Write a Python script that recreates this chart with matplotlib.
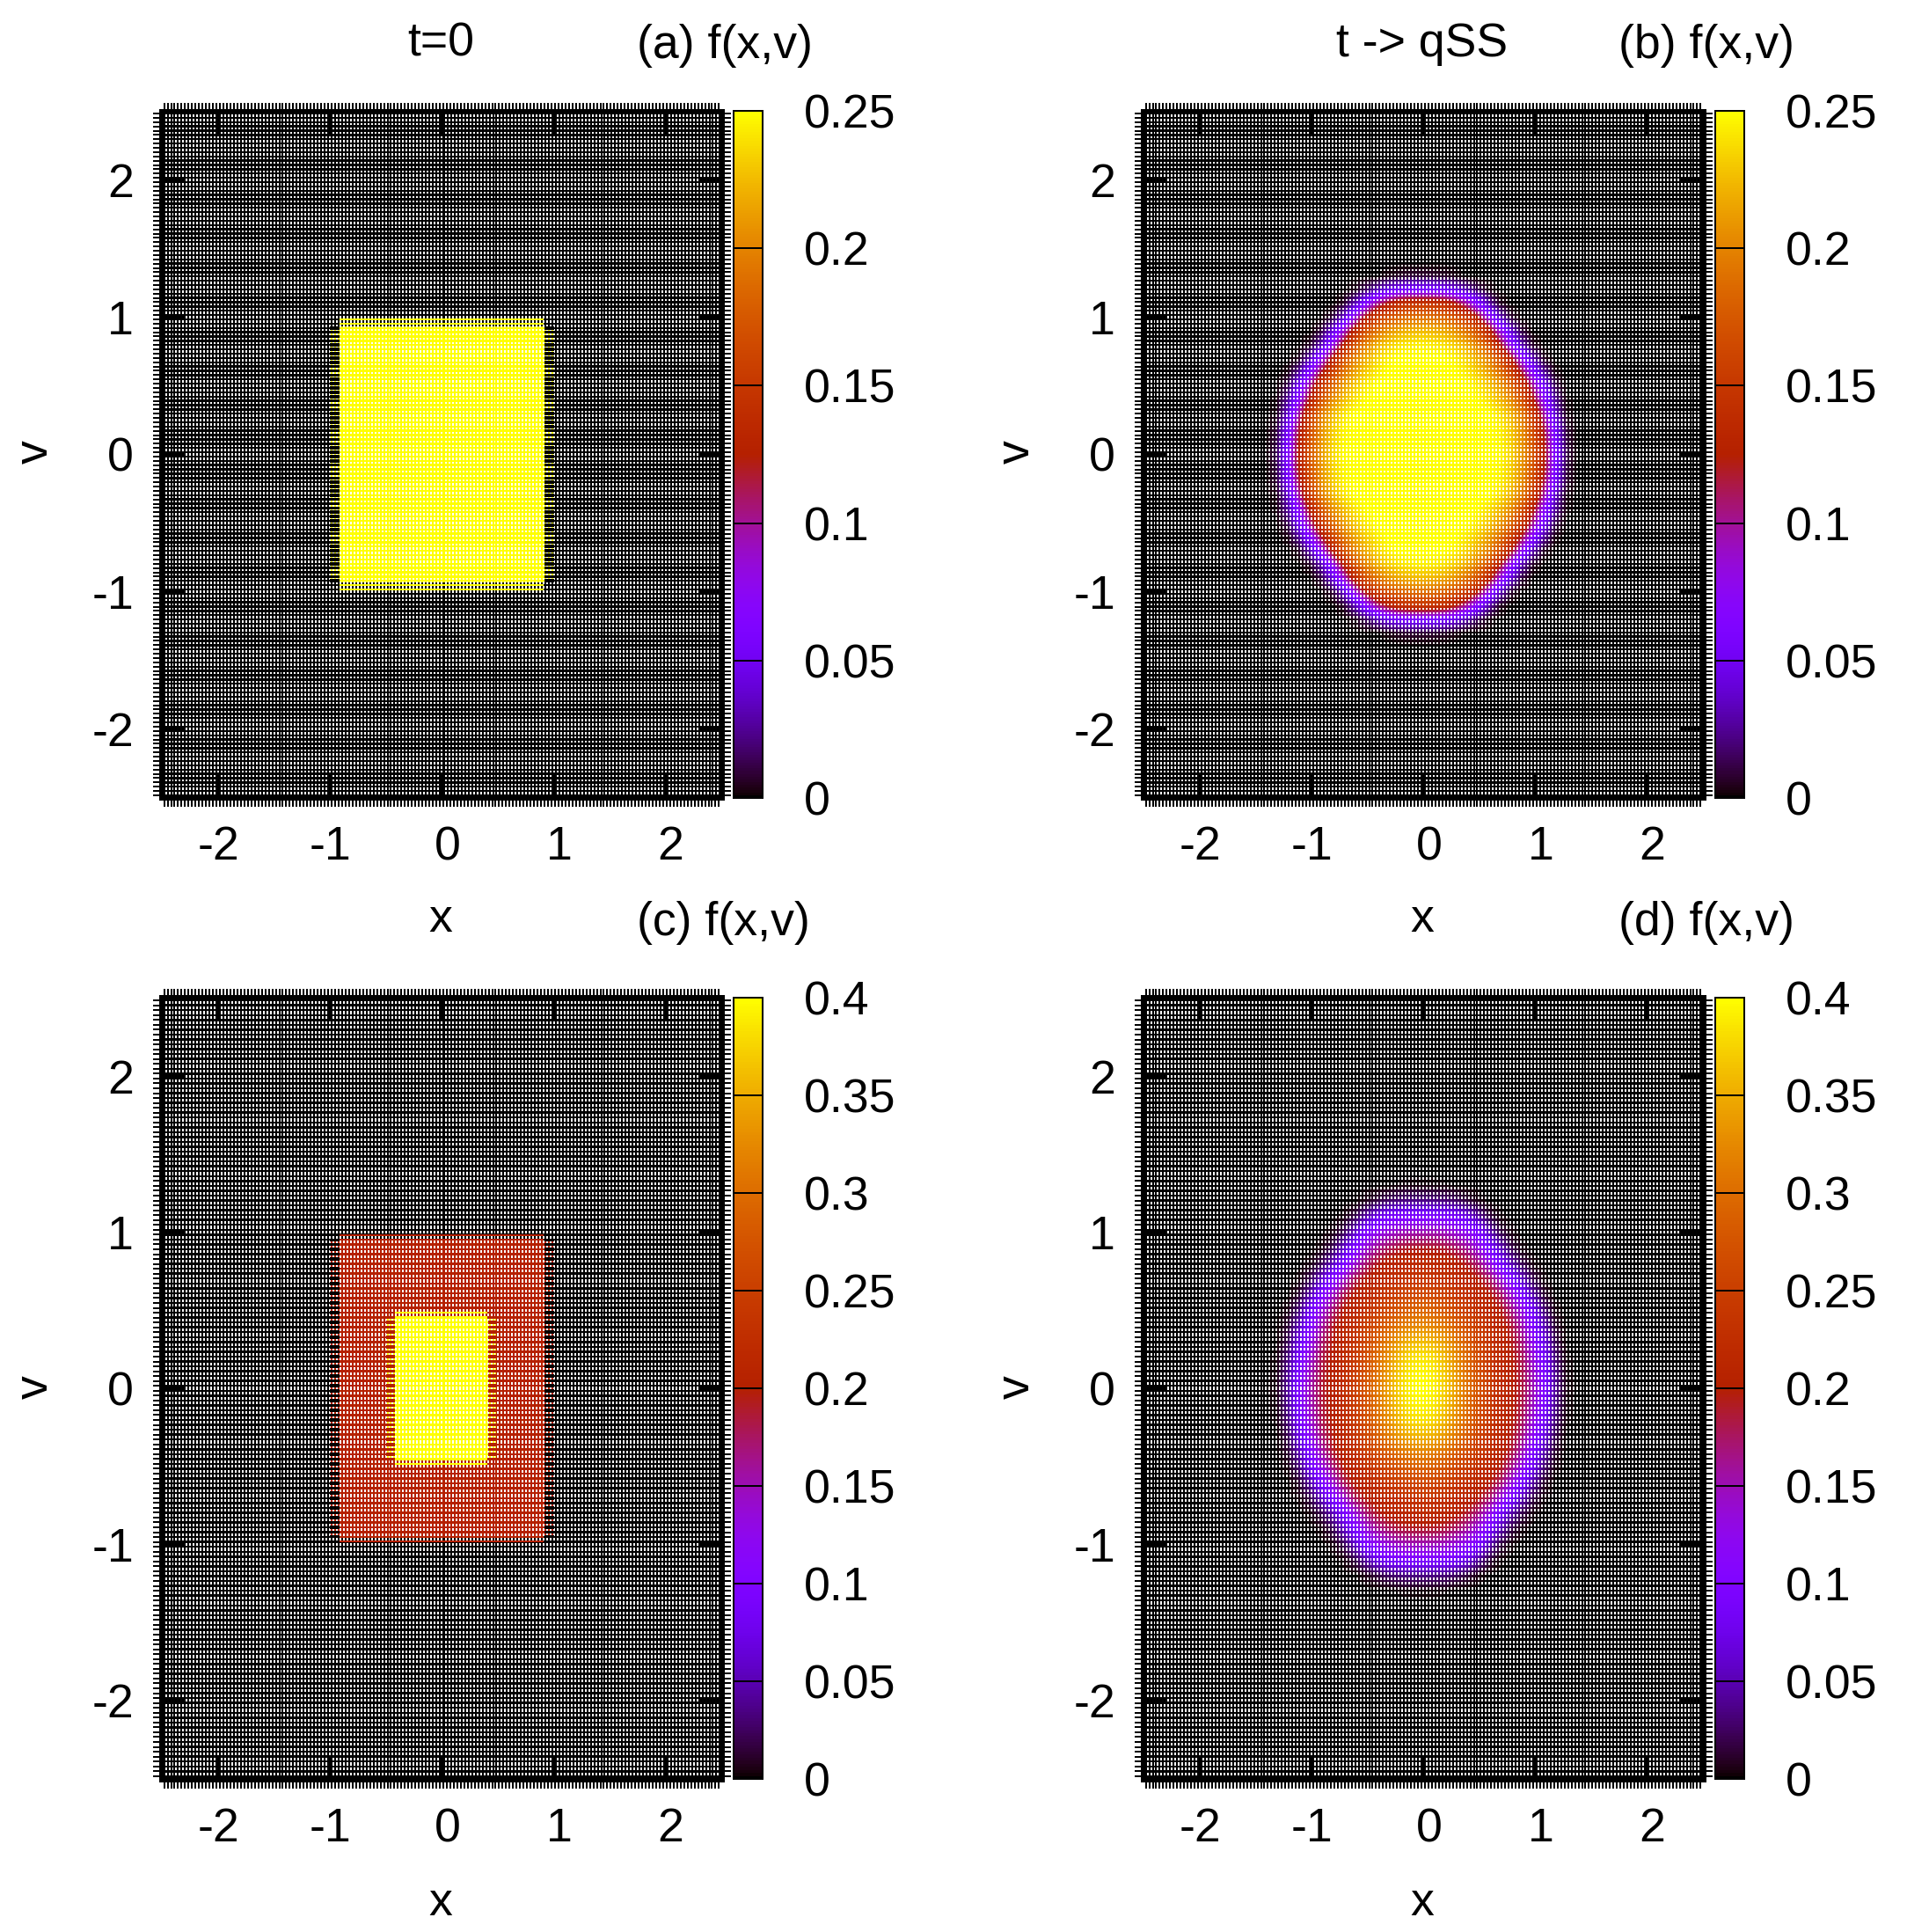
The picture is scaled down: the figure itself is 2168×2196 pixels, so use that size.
"""Phase-space density f(x,v): initial condition and quasi-stationary state, gnuplot mesh look."""
import numpy as np
import matplotlib
matplotlib.use("Agg")
import matplotlib.pyplot as plt

plt.rcParams["font.family"] = ["Liberation Sans", "DejaVu Sans"]
plt.rcParams["axes.unicode_minus"] = False

W, H = 2168, 2196
DPI = 200
FS = 19.3
PT = 72 / DPI  # one pixel in points

major_ticks = [-2, -1, 0, 1, 2]
cbar_ticks_top = [0, 0.05, 0.1, 0.15, 0.2, 0.25]
cbar_labels_top = ["0", "0.05", "0.1", "0.15", "0.2", "0.25"]
cbar_ticks_bot = [0, 0.05, 0.1, 0.15, 0.2, 0.25, 0.3, 0.35, 0.4]
cbar_labels_bot = ["0", "0.05", "0.1", "0.15", "0.2", "0.25", "0.3", "0.35", "0.4"]

# panel (a): flat box
a_x_edges = [-2.6, -1.0, -0.913, 0.913, 1.0, 2.6]
a_v_edges = [-2.6, -0.99, -0.93, 0.93, 0.99, 2.6]
a_values = [
    [0, 0, 0, 0, 0],
    [0, 0, 0.25, 0, 0],
    [0, 0.25, 0.25, 0.25, 0],
    [0, 0, 0.25, 0, 0],
    [0, 0, 0, 0, 0],
]

# panel (c): two nested boxes
c_x_edges = [-2.6, -1.0, -0.913, -0.496, -0.417, 0.41, 0.488, 0.913, 1.0, 2.6]
c_v_edges = [-2.6, -0.985, -0.945, -0.49, -0.445, 0.445, 0.49, 0.945, 0.985, 2.6]
c_values = [
    [0, 0, 0, 0, 0, 0, 0, 0, 0],
    [0, 0, 0.2, 0.2, 0.2, 0.2, 0.2, 0, 0],
    [0, 0.2, 0.2, 0.2, 0.2, 0.2, 0.2, 0.2, 0],
    [0, 0.2, 0.2, 0.2, 0.4, 0.2, 0.2, 0.2, 0],
    [0, 0.2, 0.2, 0.4, 0.4, 0.4, 0.2, 0.2, 0],
    [0, 0.2, 0.2, 0.2, 0.4, 0.2, 0.2, 0.2, 0],
    [0, 0.2, 0.2, 0.2, 0.2, 0.2, 0.2, 0.2, 0],
    [0, 0, 0.2, 0.2, 0.2, 0.2, 0.2, 0, 0],
    [0, 0, 0, 0, 0, 0, 0, 0, 0],
]

# panels (b), (d): values read by eye, one quadrant; rows v = 0 .. 1.4, columns |x| = 0 .. 1.5
BLOB_STEP = 0.1
BLOB_XC = -0.02
b_quadrant = [
    [.25, .25, .25, .25, .25, .25, .25, .248, .235, .21, .175, .125, .06, .012, 0, 0],
    [.25, .25, .25, .25, .25, .25, .25, .247, .233, .208, .172, .122, .057, .01, 0, 0],
    [.25, .25, .25, .25, .25, .25, .25, .245, .23, .205, .165, .112, .05, .008, 0, 0],
    [.25, .25, .25, .25, .25, .25, .25, .24, .222, .195, .152, .095, .035, .003, 0, 0],
    [.25, .25, .25, .25, .25, .249, .24, .225, .205, .172, .125, .07, .025, .002, 0, 0],
    [.25, .25, .25, .25, .25, .243, .23, .212, .185, .15, .1, .05, .012, 0, 0, 0],
    [.25, .25, .25, .25, .243, .232, .215, .192, .16, .115, .065, .025, .003, 0, 0, 0],
    [.25, .25, .25, .245, .235, .22, .2, .17, .125, .075, .03, .005, 0, 0, 0, 0],
    [.245, .243, .24, .232, .22, .2, .172, .125, .075, .03, .006, 0, 0, 0, 0, 0],
    [.225, .223, .218, .208, .192, .172, .135, .085, .04, .01, 0, 0, 0, 0, 0, 0],
    [.19, .188, .182, .172, .155, .125, .08, .035, .008, 0, 0, 0, 0, 0, 0, 0],
    [.15, .148, .142, .125, .1, .065, .03, .006, 0, 0, 0, 0, 0, 0, 0, 0],
    [.06, .06, .055, .045, .03, .015, .004, 0, 0, 0, 0, 0, 0, 0, 0, 0],
    [.008, .008, .006, .003, 0, 0, 0, 0, 0, 0, 0, 0, 0, 0, 0, 0],
    [0, 0, 0, 0, 0, 0, 0, 0, 0, 0, 0, 0, 0, 0, 0, 0],
]
d_quadrant = [
    [.4, .395, .375, .345, .31, .28, .25, .225, .205, .185, .15, .1, .04, .005, 0, 0],
    [.395, .39, .37, .34, .305, .275, .248, .223, .203, .182, .145, .095, .037, .004, 0, 0],
    [.385, .38, .36, .33, .3, .27, .243, .22, .2, .178, .135, .085, .03, .003, 0, 0],
    [.36, .355, .34, .315, .288, .26, .237, .215, .195, .168, .12, .07, .02, 0, 0, 0],
    [.325, .32, .31, .29, .27, .25, .228, .208, .188, .152, .1, .05, .012, 0, 0, 0],
    [.295, .29, .28, .265, .25, .232, .215, .197, .168, .13, .08, .03, .005, 0, 0, 0],
    [.265, .262, .255, .243, .23, .215, .2, .178, .14, .095, .045, .012, 0, 0, 0, 0],
    [.24, .238, .232, .224, .212, .198, .178, .14, .1, .055, .02, .003, 0, 0, 0, 0],
    [.22, .218, .212, .205, .19, .17, .135, .09, .05, .02, .004, 0, 0, 0, 0, 0],
    [.19, .189, .185, .175, .16, .135, .095, .055, .02, .004, 0, 0, 0, 0, 0, 0],
    [.15, .15, .146, .135, .12, .1, .055, .02, .004, 0, 0, 0, 0, 0, 0, 0],
    [.1, .1, .097, .09, .072, .045, .018, .003, 0, 0, 0, 0, 0, 0, 0, 0],
    [.035, .035, .032, .026, .016, .006, 0, 0, 0, 0, 0, 0, 0, 0, 0, 0],
    [.003, .003, .002, 0, 0, 0, 0, 0, 0, 0, 0, 0, 0, 0, 0, 0],
    [0, 0, 0, 0, 0, 0, 0, 0, 0, 0, 0, 0, 0, 0, 0, 0],
]

# the data mesh: 160 lines each way
xgrid = np.linspace(-2.484, 2.484, 160)
vgrid = np.linspace(-2.484, 2.484, 160)
XLIM = 2.52
LINE_HALF = 1.2  # px

cmap = plt.get_cmap("gnuplot")
fig = plt.figure(figsize=(W / DPI, H / DPI), dpi=DPI)


def px_axes(left, top, right, bottom):
    return fig.add_axes([left / W, 1 - bottom / H, (right - left) / W, (bottom - top) / H])


def px_text(x, y, s, ha="center", **kw):
    fig.text(x / W, 1 - y / H, s, ha=ha, va="center", fontsize=FS, **kw)


def mesh_overlay(ax, ylim, fringes):
    """White holes between the mesh lines, plus line-only fringes at box edges."""
    bb = ax.get_window_extent()
    nx, ny = int(round(bb.width)), int(round(bb.height))
    sx = nx / (2 * XLIM)
    sy = ny / (2 * ylim)
    px = np.arange(nx) + 0.5
    py = np.arange(ny) + 0.5
    gx = (xgrid + XLIM) * sx
    gy = (vgrid + ylim) * sy
    dist_x = np.abs(px[:, None] - gx[None, :]).min(axis=1)
    dist_y = np.abs(py[:, None] - gy[None, :]).min(axis=1)
    on_x = dist_x < 1.0
    on_y = dist_y < LINE_HALF
    inside_x = (px > gx[0]) & (px < gx[-1])
    inside_y = (py > gy[0]) & (py < gy[-1])
    rgba = np.zeros((ny, nx, 4))
    holes = np.outer(inside_y & ~on_y, inside_x & ~on_x)
    rgba[holes] = (1, 1, 1, 1)
    xs = px / sx - XLIM
    ys = py / sy - ylim
    for x0, x1, v0, v1, kind, colour in fringes:
        zone = np.outer((ys > v0) & (ys < v1), (xs > x0) & (xs < x1))
        if kind == "h":
            # side fringes read darker: the cross lines are heavier there
            lines = np.outer(dist_y < 1.8, np.ones(nx, dtype=bool))
        else:
            lines = np.outer(~on_y, on_x)
        rgba[zone & lines] = matplotlib.colors.to_rgba(colour)
    ax.imshow(rgba, extent=[-XLIM, XLIM, -ylim, ylim], origin="lower", aspect="auto",
              interpolation="nearest", zorder=1)


def box_fringes(x0, x1, x2, x3, v0, v1, v2, v3, colour):
    return [
        (x0, x1, v1, v2, "h", colour),
        (x2, x3, v1, v2, "h", colour),
        (x1, x2, v0, v1, "v", colour),
        (x1, x2, v2, v3, "v", colour),
    ]


def style_panel(ax, ylim):
    ax.set_facecolor("black")
    ax.set_xlim(-XLIM, XLIM)
    ax.set_ylim(-ylim, ylim)
    ax.set_xticks(major_ticks)
    ax.set_yticks(major_ticks)
    ax.set_xticks(xgrid, minor=True)
    ax.set_yticks(vgrid, minor=True)
    ax.tick_params(which="major", direction="in", length=28 * PT, width=4 * PT,
                   top=True, right=True, labelsize=FS, pad=30 * PT)
    ax.tick_params(which="minor", direction="out", length=8.5 * PT, width=2 * PT,
                   top=True, right=True)
    for spine in ax.spines.values():
        spine.set_linewidth(3 * PT)
    # gnuplot nudges the unsigned labels to the right
    nudge = matplotlib.transforms.ScaledTranslation(6.5 / DPI, 0, fig.dpi_scale_trans)
    for tick, val in zip(ax.xaxis.get_major_ticks(), major_ticks):
        if val >= 0:
            tick.label1.set_transform(tick.label1.get_transform() + nudge)


def add_cbar(left, top, bottom, mappable, ticks, labels):
    cax = px_axes(left, top, left + 33, bottom)
    cb = fig.colorbar(mappable, cax=cax, ticks=ticks)
    cb.ax.set_yticklabels(labels)
    cb.ax.tick_params(direction="in", length=33 * PT, width=2 * PT, labelsize=FS, pad=47 * PT)
    cb.outline.set_linewidth(2 * PT)


def draw_boxes(ax, x_edges, v_edges, values, vmax):
    return ax.pcolormesh(x_edges, v_edges, values, cmap=cmap, vmin=0, vmax=vmax,
                         shading="flat", zorder=0.5, antialiased=False)


def draw_blob(ax, quadrant, vmax):
    q = np.array(quadrant)
    right = np.vstack([q[:0:-1], q])
    table = np.hstack([right[:, :0:-1], right])
    nv, nx = q.shape
    half_x = (nx - 0.5) * BLOB_STEP
    half_v = (nv - 0.5) * BLOB_STEP
    return ax.imshow(table, extent=[BLOB_XC - half_x, BLOB_XC + half_x, -half_v, half_v],
                     origin="lower", aspect="auto", cmap=cmap, vmin=0, vmax=vmax,
                     interpolation="bilinear", interpolation_stage="data", zorder=0.5)


TOP = (125, 908, 2.51)
BOT = (1132, 2024, 2.513)
DX = 1116

# (a)
ax = px_axes(182, TOP[0], 822, TOP[1])
m = draw_boxes(ax, a_x_edges, a_v_edges, a_values, 0.25)
mesh_overlay(ax, TOP[2], box_fringes(-1.0, -0.913, 0.913, 1.0, -0.99, -0.93, 0.93, 0.99, "black"))
style_panel(ax, TOP[2])
add_cbar(834, 126, 907, m, cbar_ticks_top, cbar_labels_top)

# (b)
ax = px_axes(182 + DX, TOP[0], 822 + DX, TOP[1])
m = draw_blob(ax, b_quadrant, 0.25)
mesh_overlay(ax, TOP[2], [])
style_panel(ax, TOP[2])
add_cbar(834 + DX, 126, 907, m, cbar_ticks_top, cbar_labels_top)

# (c)
ax = px_axes(182, BOT[0], 822, BOT[1])
m = draw_boxes(ax, c_x_edges, c_v_edges, c_values, 0.4)
red = cmap(0.5)
fringes = box_fringes(-1.0, -0.913, 0.913, 1.0, -0.985, -0.945, 0.945, 0.985, "black")
fringes += box_fringes(-0.496, -0.417, 0.41, 0.488, -0.49, -0.445, 0.445, 0.49, red)
mesh_overlay(ax, BOT[2], fringes)
style_panel(ax, BOT[2])
add_cbar(834, 1134, 2022, m, cbar_ticks_bot, cbar_labels_bot)

# (d)
ax = px_axes(182 + DX, BOT[0], 822 + DX, BOT[1])
m = draw_blob(ax, d_quadrant, 0.4)
mesh_overlay(ax, BOT[2], [])
style_panel(ax, BOT[2])
add_cbar(834 + DX, 1134, 2022, m, cbar_ticks_bot, cbar_labels_bot)

# titles and axis names
px_text(501, 50, "t=0")
px_text(724, 52, "(a) f(x,v)", ha="left")
px_text(1617, 50, "t -> qSS")
px_text(1840, 52, "(b) f(x,v)", ha="left")
px_text(724, 1049, "(c) f(x,v)", ha="left")
px_text(1840, 1049, "(d) f(x,v)", ha="left")
for xc, yc in [(501, 1045), (1617, 1045), (501, 2163), (1617, 2163)]:
    px_text(xc, yc, "x")
for xc, yc in [(40, 514), (1156, 514), (40, 1577), (1156, 1577)]:
    px_text(xc, yc, "v", rotation=90)

fig.savefig("out.png", dpi=DPI)
